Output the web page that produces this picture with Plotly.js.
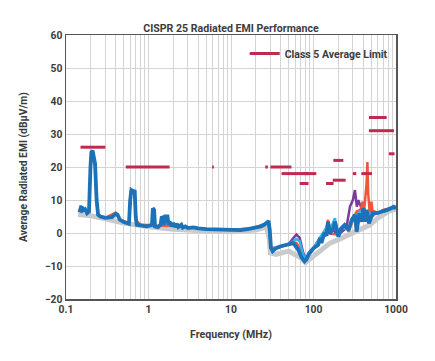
<!DOCTYPE html>
<html>
<head>
<meta charset="utf-8">
<script src="https://cdn.plot.ly/plotly-3.0.1.min.js"></script>
<style>html,body{margin:0;padding:0;background:#fff;}#chart{width:435px;height:361px;}</style>
</head>
<body>
<div id="chart"></div>
<script>
// ---- Data ----
const blueFreq = [0.145,0.15,0.155,0.16,0.17,0.18,0.19,0.198,0.203,0.21,0.218,0.225,0.235,0.245,0.26,0.3,0.36,0.4,0.42,0.45,0.5,0.58,0.6,0.62,0.66,0.68,0.7,0.72,0.8,0.95,1.1,1.13,1.17,1.2,1.3,1.4,1.45,1.5,1.55,1.6,1.7,1.75,1.8,1.9,2.0,2.1,2.2,2.3,2.5,2.6,2.8,3.0,3.5,4,5,6,8,10,13,16,20,23,25,27,28.5,29.5,30.5,32,35,40,50,57,65,72,78,82,88,100,114,120,125,135,144,150,158,173,182,190,200,217,238,267,290,318,333,360,385,400,420,440,470,505,525,580,680,780,940,1000];
const blueDb   = [6.3,7.5,8,6.8,7.2,6.0,6.5,20,24.5,25,22,21,10,5.5,5,4.6,4.8,5.8,5.6,4,3.3,2.8,10,13,12.5,13,5,2.5,2.3,2,2.4,7.5,7,2,1.8,2.5,5,4.5,2.5,5,5,2.5,3.5,2,3,1.8,2.8,1.8,2.5,1.6,2.0,1.5,1.7,1.4,1.2,1.1,1.0,0.9,0.9,1.2,1.6,2.0,2.4,3,3.6,1,-4.5,-5.5,-4.6,-4,-3.4,-3.1,-5,-7.5,-8.6,-8,-6.2,-4.6,-3.6,-1.5,-3,0,-0.8,3.4,-0.2,1.4,3.4,1,-1.1,1.4,2.4,0.9,3.9,5.5,0.4,6,3.4,7.5,3.4,7,2.9,5,6,6,6.5,7,8,7.5];

const grayFreq = [0.14,0.2,0.3,0.5,1,2,5,10,20,27,29,30,35,50,70,80,100,130,160,200,300,480,600,800,1000];
const grayDb   = [5.6,5.2,4.3,3.0,1.9,1.1,0.6,0.4,0.9,1.8,-1.5,-6,-6.5,-5.5,-7.5,-9,-7,-4.5,-3,-2,0,2.4,4.5,6.5,7.3];

const redFreq = [0.145,0.15,0.16,0.19,0.198,0.205,0.215,0.225,0.235,0.245,0.3,0.4,0.45,0.58,0.61,0.68,0.7,0.8,1.1,1.14,1.2,2,5,10,20,27,28.5,30.5,35,50,57,62,68,75,82,100,120,140,150,158,200,238,267,300,333,370,395,405,440,450,460,480,505,525,550,600,700,1000];
const redDb   = [6.5,8.3,7,6.5,19,24,23.5,21,10,5.5,4.6,6.2,4.1,3,12.5,12.5,4,2.4,2.4,7,2.2,2.2,1.2,0.9,1.6,3,3.6,-4.5,-4.6,-3.4,-3.2,-3,-4.5,-7.5,-8,-4.6,-1.5,0,4,-0.2,-0.5,2.5,0.4,4,6.5,7,9.5,5,15,21.5,12,6,9.5,5,6.5,6,7,8];

const purpleFreq = [20,27,28.5,30.5,35,50,57,62,68,75,82,100,150,200,250,277,300,318,335,350,360,385,400,440,500,600,1000];
const purpleDb   = [1.6,3,3.6,-4.5,-4.6,-3.4,-1.5,-0.5,-1.5,-6,-8,-4.6,2,-0.5,1.5,8,10,13,8,10,9,7.5,8,6,5.5,6,7.8];

const cyanFreq = [20,27,28.5,30.5,35,50,57,62,68,75,82,100,150,165,182,195,217,267,300,360,380,400,440,505,600,1000];
const cyanDb   = [1.6,3,3.6,-4.5,-4.6,-3.4,-2.5,-1.8,-2.5,-6.5,-8,-4.6,2.5,2,4.5,0.5,1.5,1.2,4,6.5,6.5,7,6.5,5.5,6,7.6];

const limitStart = [0.15,0.53,5.9,26,30,41,76,68,142,174,171,300,380,470,470,820];
const limitEnd   = [0.30,1.8,6.2,28,54,88,108,87,175,230,245,330,512,770,944,960];
const limitLevel = [26,20,20,20,20,18,18,15,15,22,16,18,18,35,31,24];

const xTickVals = [0.1,1,10,100,1000];
const xTickText = ['0.1','1','10','100','1000'];

// ---- Build ----
const limX = [], limY = [];
for (let i = 0; i < limitStart.length; i++) {
  limX.push(limitStart[i], limitEnd[i], null);
  limY.push(limitLevel[i], limitLevel[i], null);
}
const minorVals = [];
for (let d = 0.1; d < 1000; d *= 10) {
  for (let k = 2; k <= 9; k++) minorVals.push(+(d * k).toPrecision(3));
}

const FONT = 'Roboto, "Open Sans", sans-serif';
const TXT = '#3c3c3c';
const traces = [
  {x: grayFreq, y: grayDb, mode: 'lines', line: {color: '#c9cace', width: 5}, showlegend: false, hoverinfo: 'skip'},
  {x: purpleFreq, y: purpleDb, mode: 'lines', line: {color: '#7a3b9c', width: 2.5}, showlegend: false},
  {x: redFreq, y: redDb, mode: 'lines', line: {color: '#f0553a', width: 2.5}, showlegend: false},
  {x: cyanFreq, y: cyanDb, mode: 'lines', line: {color: '#2db4e8', width: 2.5}, showlegend: false},
  {x: blueFreq, y: blueDb, mode: 'lines', line: {color: '#1b72b8', width: 3.8}, showlegend: false},
  {x: limX, y: limY, mode: 'lines', name: 'Class 5 Average Limit', connectgaps: false,
   line: {color: '#c12a50', width: 3}}
];

const layout = {
  width: 435, height: 361,
  margin: {l: 66, r: 39, t: 35, b: 62},
  paper_bgcolor: '#fff', plot_bgcolor: '#fff',
  font: {family: FONT, color: TXT, size: 10},
  title: {text: 'CISPR 25 Radiated EMI Performance', x: 0.531, xanchor: 'center', y: 0.922, yanchor: 'middle',
          font: {family: FONT, size: 10.6, weight: 700, color: TXT}},
  xaxis: {
    type: 'log', range: [-1, 3],
    tickvals: xTickVals, ticktext: xTickText, ticks: '',
    showgrid: true, gridcolor: '#d4d4d4', gridwidth: 1,
    minor: {tickvals: minorVals, showgrid: true, gridcolor: '#d4d4d4', gridwidth: 1, ticks: ''},
    showline: true, linecolor: '#555', linewidth: 1.5, mirror: true,
    tickfont: {family: FONT, size: 10.3, weight: 700, color: TXT},
    title: {text: 'Frequency (MHz)', standoff: 15, font: {family: FONT, size: 10.6, weight: 700, color: TXT}},
    zeroline: false
  },
  yaxis: {
    range: [-20, 60], dtick: 10, tick0: 0, ticks: '',
    showgrid: true, gridcolor: '#d4d4d4', gridwidth: 1,
    showline: true, linecolor: '#555', linewidth: 1.5, mirror: true,
    tickfont: {family: FONT, size: 10.3, weight: 700, color: TXT},
    title: {text: 'Average Radiated EMI (dBμV/m)', standoff: 15, font: {family: FONT, size: 10.3, weight: 700, color: TXT}},
    zeroline: false
  },
  legend: {x: 0.99, xanchor: 'right', y: 0.985, yanchor: 'top', bgcolor: 'rgba(255,255,255,0)',
           font: {family: FONT, size: 10.5, weight: 700, color: TXT}, itemwidth: 30},
  showlegend: true
};

Plotly.newPlot('chart', traces, layout, {displayModeBar: false, staticPlot: true});
</script>
</body>
</html>
